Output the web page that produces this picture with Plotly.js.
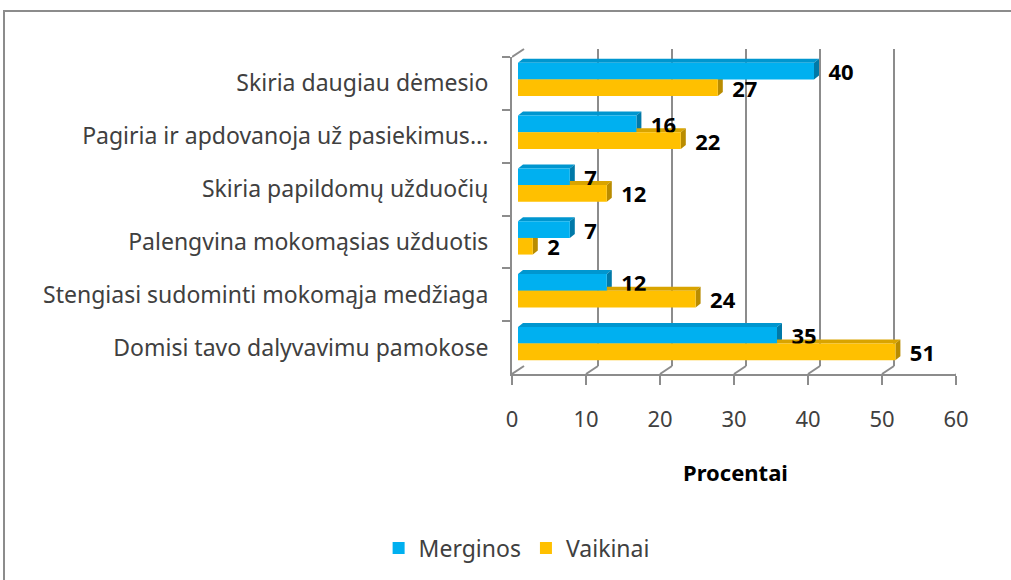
<!DOCTYPE html>
<html>
<head>
<meta charset="utf-8">
<script src="https://cdn.plot.ly/plotly-3.0.1.min.js"></script>
<style>
  html, body { margin: 0; padding: 0; background: #fff; }
  #wrap { position: relative; width: 1011px; height: 580px; overflow: hidden; }
  #chart { position: absolute; left: 0; top: 0; width: 1011px; height: 580px; }
  #frame { position: absolute; left: 3px; top: 10px; width: 1100px; height: 700px;
           border: 2px solid #8c8c8c; box-sizing: border-box; pointer-events: none; }
</style>
</head>
<body>
<div id="wrap">
  <div id="chart"></div>
  <div id="frame"></div>
</div>
<script>
// ---- data ----
const categories = [
  'Skiria daugiau dėmesio',
  'Pagiria ir apdovanoja už pasiekimus...',
  'Skiria papildomų užduočių',
  'Palengvina mokomąsias užduotis',
  'Stengiasi sudominti mokomąja medžiaga',
  'Domisi tavo dalyvavimu pamokose'
];
const merginos = [40, 16, 7, 7, 12, 35];
const vaikinai = [27, 22, 12, 2, 24, 51];
const seriesNames = ['Merginos', 'Vaikinai'];
const xTicks = [0, 10, 20, 30, 40, 50, 60];
const xTitle = 'Procentai';

// ---- styling / geometry ----
const W = 1011, H = 580;
const colors = ['#00B0F0', '#FFC000'];
const topFace = ['#0096CF', '#D9A400'];
const sideFace = ['#0079A8', '#B98C00'];
const font = 'Noto Sans, Open Sans, sans-serif';
const axisGrey = '#8c8c8c';

// front plane (pixels)
const F = {x0: 512, x1: 956, yTop: 57, yBot: 374};
const depth = {dx: 12, dy: 8};
function px2paperX(p) { return p / W; }
function px2paperY(p) { return (H - p) / H; }
function plane(k) { // k = 0 front, 0.5 mid, 1 back
  return {
    x: [px2paperX(F.x0 + depth.dx * k), px2paperX(F.x1 + depth.dx * k)],
    y: [px2paperY(F.yBot - depth.dy * k), px2paperY(F.yTop - depth.dy * k)]
  };
}
const back = plane(1), mid = plane(0.5), front = plane(0);
const xMax = xTicks[xTicks.length - 1];
const pxPerUnit = (F.x1 - F.x0) / xMax;
const catRange = [categories.length - 0.5, -0.5];
const pxPerCat = (F.yBot - F.yTop) / categories.length;

const bargap = 0.37;
const barW = (1 - bargap) / 2;

// ---- traces ----
const traces = [];
// back wall helper (invisible)
traces.push({type: 'scatter', x: [0, xMax], y: [0, 1], xaxis: 'x', yaxis: 'y',
  mode: 'markers', marker: {opacity: 0}, hoverinfo: 'skip', showlegend: false});
// bars (mid depth)
[merginos, vaikinai].forEach((vals, i) => {
  traces.push({
    type: 'bar', orientation: 'h', name: seriesNames[i],
    x: vals, y: categories, xaxis: 'x2', yaxis: 'y2',
    marker: {color: colors[i], line: {width: 0}},
    text: vals.map(String),
    texttemplate: '\u00a0\u00a0%{x}',
    textposition: 'outside', cliponaxis: false, constraintext: 'none',
    textfont: {family: font, size: 22, color: '#000', weight: 'bold'},
    hoverinfo: 'x+name'
  });
});
// front axis helper (invisible) for category labels
traces.push({type: 'scatter', x: merginos, y: categories, xaxis: 'x3', yaxis: 'y3',
  mode: 'markers', marker: {opacity: 0}, hoverinfo: 'skip', showlegend: false});

// ---- shapes: 3D faces of bars ----
const shapes = [];
const dxU = 5 / pxPerUnit, dyU = 4 / pxPerCat;
[merginos, vaikinai].forEach((vals, s) => {
  vals.forEach((v, i) => {
    const yt = i - barW + s * barW, yb = yt + barW;
    // top face
    shapes.push({type: 'path', xref: 'x2', yref: 'y2', layer: 'between',
      path: `M0,${yt} L${v},${yt} L${v + dxU},${yt - dyU} L${dxU},${yt - dyU} Z`,
      fillcolor: topFace[s], line: {width: 0}});
    // side face
    shapes.push({type: 'path', xref: 'x2', yref: 'y2', layer: 'between',
      path: `M${v},${yt} L${v + dxU},${yt - dyU} L${v + dxU},${yb - dyU} L${v},${yb} Z`,
      fillcolor: sideFace[s], line: {width: 0}});
  });
});
// floor depth lines
const dDepthU = depth.dx / pxPerUnit;
xTicks.forEach(t => {
  shapes.push({type: 'line', xref: 'x3', yref: 'paper',
    x0: t, x1: t + dDepthU, y0: front.y[0], y1: back.y[0],
    line: {color: axisGrey, width: 2}});
});
// left wall top edge
shapes.push({type: 'line', xref: 'x3', yref: 'paper',
  x0: 0, x1: dDepthU, y0: front.y[1], y1: back.y[1],
  line: {color: axisGrey, width: 2}});

const layout = {
  width: W, height: H,
  margin: {l: 0, r: 0, t: 0, b: 0},
  paper_bgcolor: '#fff', plot_bgcolor: 'rgba(0,0,0,0)',
  barmode: 'group', bargap: bargap, bargroupgap: 0,
  font: {family: font, color: '#404040'},
  showlegend: true,
  legend: {orientation: 'h', x: 0.511, xanchor: 'center', y: 0.055, yanchor: 'middle',
    font: {family: font, size: 23, color: '#404040'}, traceorder: 'normal'},
  // back wall
  xaxis: {domain: back.x, anchor: 'y', range: [0, xMax], tickvals: xTicks,
    showgrid: true, gridcolor: axisGrey, gridwidth: 2, zeroline: false,
    showline: false, showticklabels: false, ticks: '', fixedrange: true},
  yaxis: {domain: back.y, anchor: 'x', range: [0, 1], showgrid: false, zeroline: false,
    showline: false, showticklabels: false, ticks: '', fixedrange: true},
  // bars
  xaxis2: {domain: mid.x, anchor: 'y2', range: [0, xMax], showgrid: false, zeroline: false,
    showline: false, showticklabels: false, ticks: '', fixedrange: true},
  yaxis2: {domain: mid.y, anchor: 'x2', type: 'category', categoryarray: categories,
    range: catRange, showgrid: false, zeroline: false, showline: false,
    showticklabels: false, ticks: '', fixedrange: true},
  // front axes
  xaxis3: {domain: front.x, anchor: 'y3', range: [0, xMax], tickvals: xTicks,
    showgrid: false, zeroline: false, showline: true, linecolor: axisGrey, linewidth: 2,
    ticks: 'outside', ticklen: 9, tickwidth: 2, tickcolor: axisGrey,
    ticklabelstandoff: 16,
    tickfont: {family: font, size: 22, color: '#404040'}, fixedrange: true},
  yaxis3: {domain: front.y, anchor: 'x3', type: 'category', categoryarray: categories,
    range: catRange, showgrid: false, zeroline: false, showline: true,
    linecolor: axisGrey, linewidth: 2, ticks: 'outside', tickson: 'boundaries',
    ticklen: 8, tickwidth: 2, tickcolor: axisGrey, ticklabelstandoff: 17,
    tickfont: {family: font, size: 23, color: '#404040'}, fixedrange: true},
  shapes: shapes,
  annotations: [{text: xTitle, xref: 'paper', yref: 'paper',
    x: px2paperX(735), y: px2paperY(472), xanchor: 'center', yanchor: 'middle',
    showarrow: false, font: {family: font, size: 22, color: '#000', weight: 'bold'}}]
};

Plotly.newPlot('chart', traces, layout, {displayModeBar: false, staticPlot: true});
</script>
</body>
</html>
